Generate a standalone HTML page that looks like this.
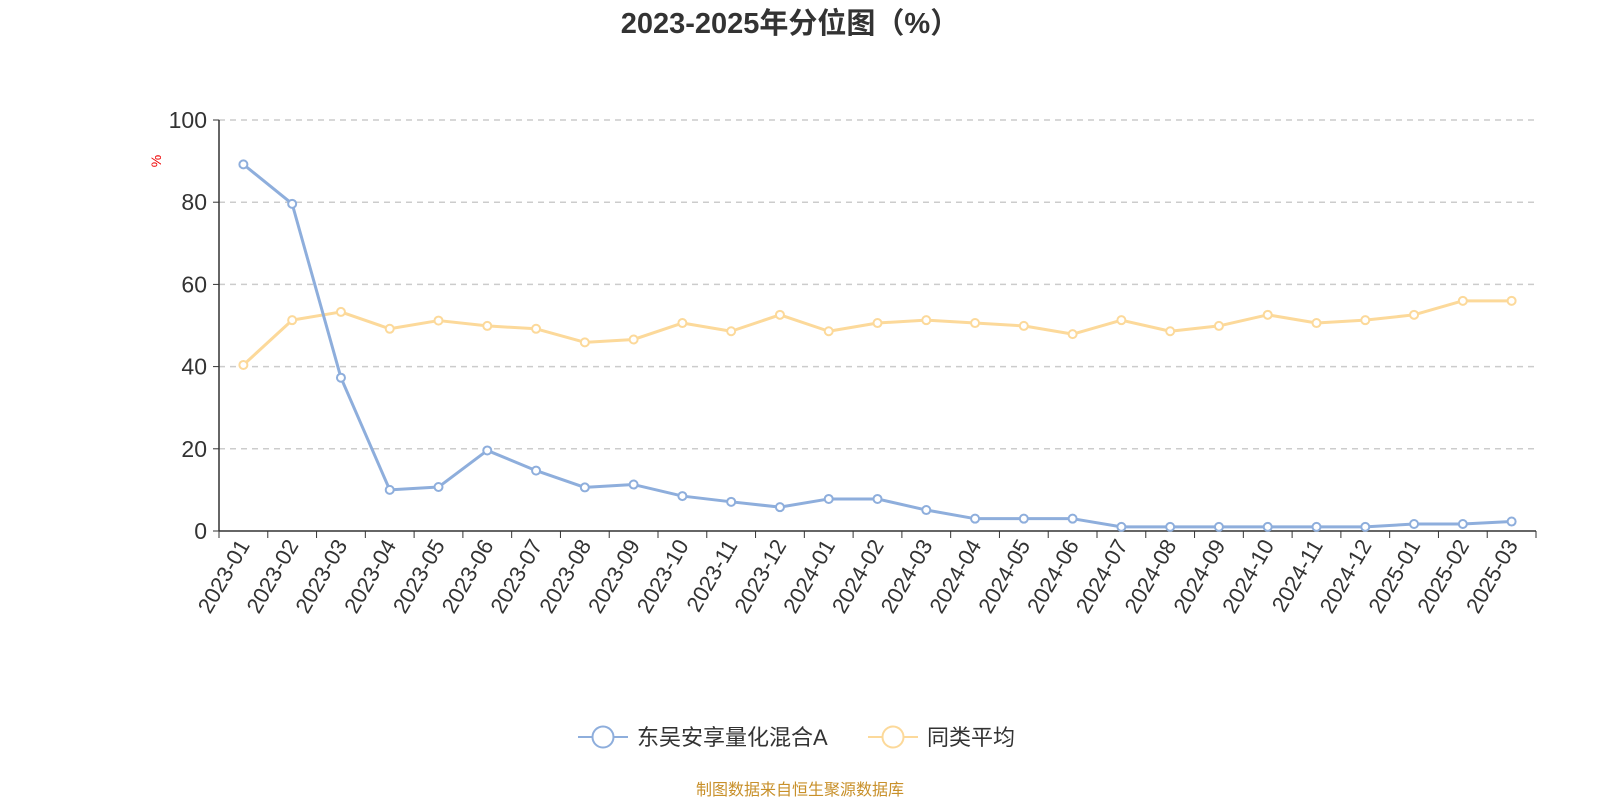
<!DOCTYPE html>
<html><head><meta charset="utf-8">
<style>
body{margin:0;background:#fff;font-family:"Liberation Sans","Noto Sans CJK SC",sans-serif;}
svg{display:block}
</style></head>
<body>
<svg id="chart" width="1600" height="800" xmlns="http://www.w3.org/2000/svg" font-family="Liberation Sans, Noto Sans CJK SC, sans-serif">
<text x="790" y="33" text-anchor="middle" font-size="29" font-weight="bold" fill="#333">2023-2025年分位图（%）</text>
<text x="0" y="0" transform="translate(161,161) rotate(-90)" text-anchor="middle" font-size="14" fill="#e00">%</text>
<g id="grid"></g><g id="axes"></g><g id="series"></g>
<g>
<g>
<line x1="578" y1="737" x2="628" y2="737" stroke="#8eaedc" stroke-width="2"/>
<circle cx="603" cy="737" r="10.5" fill="#fff" stroke="#8eaedc" stroke-width="2"/>
<text x="637" y="745" font-size="22" fill="#333">东吴安享量化混合A</text></g>
<g>
<line x1="868" y1="737" x2="918" y2="737" stroke="#fcd99a" stroke-width="2"/>
<circle cx="893" cy="737" r="10.5" fill="#fff" stroke="#fcd99a" stroke-width="2"/>
<text x="927" y="745" font-size="22" fill="#333">同类平均</text></g>
</g>
<text x="800" y="795" text-anchor="middle" font-size="16" fill="#c8902a">制图数据来自恒生聚源数据库</text>
</svg>
<script>
const categories=["2023-01","2023-02","2023-03","2023-04","2023-05","2023-06","2023-07","2023-08","2023-09","2023-10","2023-11","2023-12","2024-01","2024-02","2024-03","2024-04","2024-05","2024-06","2024-07","2024-08","2024-09","2024-10","2024-11","2024-12","2025-01","2025-02","2025-03"];
const fundValues=[89.2,79.6,37.3,10,10.7,19.6,14.7,10.6,11.3,8.5,7.1,5.8,7.8,7.8,5.1,3,3,3,1,1,1,1,1,1,1.7,1.7,2.3];
const avgValues=[40.4,51.3,53.3,49.2,51.2,49.9,49.2,45.9,46.6,50.6,48.6,52.6,48.6,50.6,51.3,50.6,49.9,47.9,51.3,48.6,49.9,52.6,50.6,51.3,52.6,56,56];
const yTicks=[0,20,40,60,80,100];
const NS="http://www.w3.org/2000/svg";
const X0=219,X1=1536,Y0=531,Y1=120;
const band=(X1-X0)/categories.length;
const xs=i=>X0+band*(i+0.5);
const ys=v=>Y0-(v/100)*(Y0-Y1);
function mk(tag,attrs,parent){const e=document.createElementNS(NS,tag);for(const k in attrs)e.setAttribute(k,attrs[k]);parent.appendChild(e);return e;}
const grid=document.getElementById('grid'),axes=document.getElementById('axes'),series=document.getElementById('series');
yTicks.forEach(t=>{
  if(t>0){const g=mk('line',{x1:X0,x2:X1,y1:ys(t),y2:ys(t),stroke:'#ccc','stroke-dasharray':'6,5','stroke-width':1.5},grid);
  
  }
  const tk=mk('line',{x1:X0-6,x2:X0,y1:ys(t),y2:ys(t),stroke:'#333'},axes);
  
  
  const l=mk('text',{x:X0-12,y:ys(t)+8,'text-anchor':'end','font-size':23,fill:'#333'},axes);
  l.textContent=t;
  
  
});
const ya=mk('line',{x1:X0,x2:X0,y1:Y1,y2:Y0,stroke:'#333','stroke-width':1.5},axes);


const xa=mk('line',{x1:X0,x2:X1,y1:Y0,y2:Y0,stroke:'#333','stroke-width':1.5},axes);


for(let i=0;i<=categories.length;i++){
  const t=mk('line',{x1:X0+band*i,x2:X0+band*i,y1:Y0,y2:Y0+7,stroke:'#333'},axes);
  
  
}
categories.forEach((c,i)=>{
  const t=mk('text',{transform:`translate(${xs(i)+7},${Y0+14}) rotate(-60)`,'text-anchor':'end','font-size':22,fill:'#333'},axes);
  t.textContent=c;
  
  
});
function drawSeries(vals,color,name){
  const p=mk('polyline',{points:vals.map((v,i)=>xs(i)+','+ys(v)).join(' '),fill:'none',stroke:color,'stroke-width':3,'stroke-linejoin':'round'},series);
  
  
  vals.forEach((v,i)=>{
    const c=mk('circle',{cx:xs(i),cy:ys(v),r:4,fill:'#fff',stroke:color,'stroke-width':2},series);
    
    
  });
}
drawSeries(avgValues,'#fcd99a','average');
drawSeries(fundValues,'#8eaedc','fund');
</script>
</body></html>
